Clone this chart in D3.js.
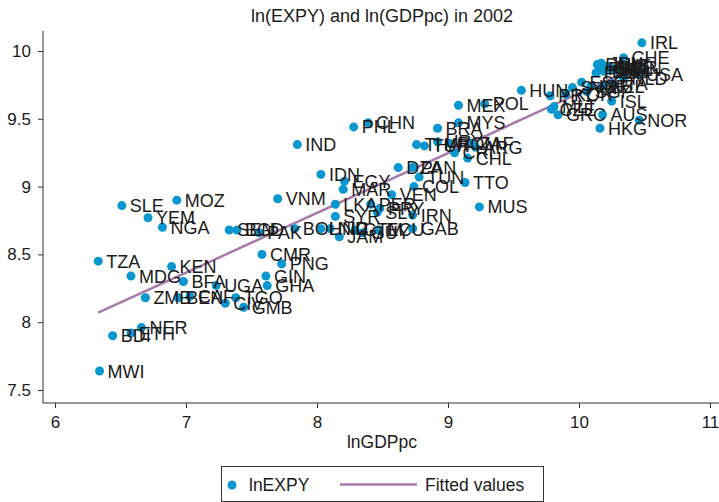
<!DOCTYPE html>
<html>
<head>
<meta charset="utf-8">
<script src="https://cdn.jsdelivr.net/npm/d3@7"></script>
<style>
  body { margin: 0; background: #fff; }
  text { font-family: "Liberation Sans", Arial, sans-serif; fill: #1a1a1a; }
</style>
</head>
<body>
<script>
const width = 719
const height = 502

// country codes, ln(GDP per capita) and ln(EXPY)
const countries = [
  "IRL","CHE","USA","NLD","DNK","JPN","SWE","FIN","AUT","BEL","DEU","GBR","FRA","CAN",
  "ITA","NZL","ISR","ESP","SGP","SVN","PRT","KOR","CZE","MLT","GRC","ISL","AUS","HKG","NOR",
  "HUN","POL","MEX","MYS","BRA","THA","TUR","URY","ROM","ZAF","CRI","ARG","CHL",
  "TTO","MUS","DZA","PAN","TUN","COL","VEN","IRN","GAB","PER","PRY","SLV","LKA","SYR",
  "MAR","EGY","IDN","IND","PHL","CHN","VNM","BOL","HND","NIC","JAM","GTM","GUY","ECU",
  "SEN","BGD","PAK","CMR","PNG","GIN","GHA","TZA","KEN","MDG","BFA","UGA","ZMB","BEN",
  "CAF","TGO","CIV","GMB","NER","ETH","BDI","MWI","SLE","MOZ","YEM","NGA"
];
const lnGDPpc = [
  10.48,10.34,10.45,10.34,10.14,10.17,10.20,10.16,10.21,10.23,10.19,10.24,10.13,10.28,
  10.26,10.18,10.09,10.02,10.06,9.95,9.78,9.90,9.79,9.81,9.84,10.25,10.18,10.16,10.46,
  9.56,9.28,9.08,9.08,8.92,8.76,8.82,8.92,9.01,9.18,9.05,9.21,9.15,
  9.13,9.24,8.62,8.73,8.78,8.74,8.57,8.73,8.73,8.41,8.48,8.46,8.14,8.14,
  8.20,8.21,8.03,7.85,8.28,8.39,7.70,7.83,8.03,8.10,8.17,8.29,8.35,8.47,
  7.33,7.39,7.56,7.58,7.73,7.61,7.62,6.33,6.89,6.58,6.98,7.23,6.69,6.94,
  7.03,7.38,7.30,7.44,6.66,6.58,6.44,6.34,6.51,6.93,6.71,6.82
];
const lnEXPY = [
  10.06,9.95,9.83,9.80,9.90,9.91,9.88,9.87,9.89,9.86,9.85,9.88,9.84,9.86,
  9.76,9.74,9.74,9.77,9.70,9.73,9.67,9.68,9.57,9.59,9.53,9.63,9.53,9.43,9.49,
  9.71,9.61,9.60,9.47,9.43,9.31,9.30,9.33,9.32,9.32,9.25,9.29,9.21,
  9.03,8.85,9.14,9.14,9.07,9.00,8.94,8.79,8.69,8.87,8.84,8.81,8.87,8.78,
  8.98,9.04,9.09,9.31,9.44,9.47,8.91,8.69,8.69,8.69,8.63,8.68,8.66,8.68,
  8.68,8.68,8.66,8.50,8.43,8.34,8.27,8.45,8.41,8.34,8.30,8.27,8.18,8.18,
  8.19,8.18,8.14,8.11,7.96,7.92,7.90,7.64,8.86,8.90,8.77,8.70
];

// fitted values line (end points)
const fitX = [6.33, 10.48];
const fitY = [8.07, 9.90];

const xTicks = [6, 7, 8, 9, 10, 11];
const yTicks = [7.5, 8, 8.5, 9, 9.5, 10];

const dotColor = "#0a96cf";
const fitColor = "#a679a8";

const svg = d3.select("body").append("svg")
    .attr("width", width)
    .attr("height", height);

const x = d3.scaleLinear().domain([6, 11]).range([55, 710]);
const y = d3.scaleLinear().domain([7.5, 10]).range([390, 51]);

// axes
const xAxis = svg.append("g")
    .attr("transform", "translate(0,403)")
    .call(d3.axisBottom(x).tickValues(xTicks).tickFormat(d3.format("d")).tickSize(5).tickPadding(8));
xAxis.select(".domain").attr("d", "M43,0H719");

const yAxis = svg.append("g")
    .attr("transform", "translate(43,0)")
    .call(d3.axisLeft(y).tickValues(yTicks).tickFormat(d => d).tickSize(5).tickPadding(7));
yAxis.select(".domain").attr("d", "M0,31V403");

svg.selectAll(".tick text").style("font-size", "17px").attr("fill", "#1a1a1a");
svg.selectAll(".domain, .tick line").attr("stroke", "#333");

// title and axis label
svg.append("text")
    .attr("x", 382).attr("y", 22)
    .attr("text-anchor", "middle")
    .style("font-size", "18px")
    .text("ln(EXPY) and ln(GDPpc) in 2002");

svg.append("text")
    .attr("x", 382).attr("y", 448)
    .attr("text-anchor", "middle")
    .style("font-size", "17.5px")
    .text("lnGDPpc");

// fitted line
svg.append("line")
    .attr("x1", x(fitX[0])).attr("y1", y(fitY[0]))
    .attr("x2", x(fitX[1])).attr("y2", y(fitY[1]))
    .attr("stroke", fitColor)
    .attr("stroke-width", 2.5);

// points
const idx = d3.range(countries.length);
svg.append("g").selectAll("circle")
    .data(idx)
    .enter()
    .append("circle")
    .attr("cx", i => x(lnGDPpc[i]))
    .attr("cy", i => y(lnEXPY[i]))
    .attr("r", 4.5)
    .attr("fill", dotColor);

// marker labels
svg.append("g").selectAll("text")
    .data(idx)
    .enter()
    .append("text")
    .attr("x", i => x(lnGDPpc[i]) + 8)
    .attr("y", i => y(lnEXPY[i]) + 6.5)
    .style("font-size", "18px")
    .text(i => countries[i]);

// legend
const legend = svg.append("g");
legend.append("rect")
    .attr("x", 221.5).attr("y", 466.5)
    .attr("width", 322).attr("height", 35)
    .attr("fill", "none")
    .attr("stroke", "#333");
legend.append("circle")
    .attr("cx", 232).attr("cy", 485).attr("r", 4.5)
    .attr("fill", dotColor);
legend.append("text")
    .attr("x", 249).attr("y", 491)
    .style("font-size", "17.5px")
    .text("lnEXPY");
legend.append("line")
    .attr("x1", 340).attr("x2", 417)
    .attr("y1", 484.5).attr("y2", 484.5)
    .attr("stroke", fitColor)
    .attr("stroke-width", 2.5);
legend.append("text")
    .attr("x", 425).attr("y", 491)
    .style("font-size", "17.5px")
    .text("Fitted values");
</script>
</body>
</html>
